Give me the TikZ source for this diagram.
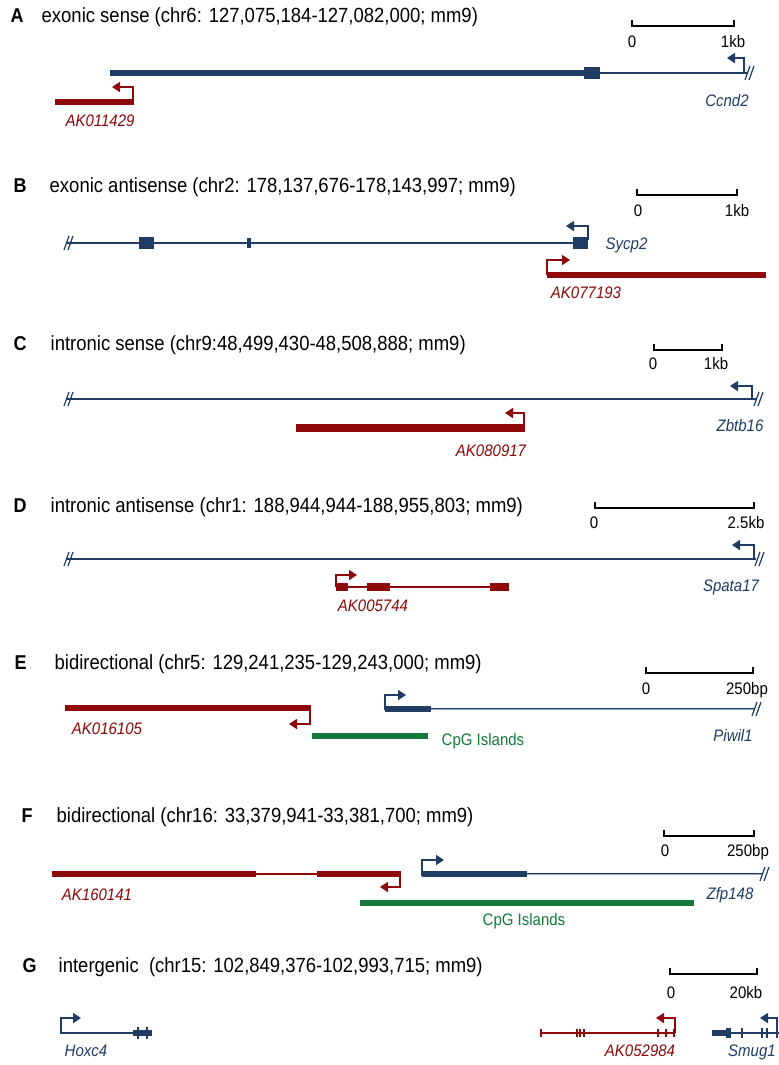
\documentclass[tikz,border=0pt]{standalone}
\usepackage{fontspec}
\setmainfont{Liberation Sans}[FakeStretch=0.9]
\usetikzlibrary{arrows.meta}
\definecolor{geneBlue}{HTML}{1F3D64}
\definecolor{geneRed}{HTML}{8E0A0A}
\definecolor{cpgGreen}{HTML}{137A3A}

% break mark on a line
\newcommand{\cutmark}[2]{%
  \draw[geneBlue, line width=0.9pt] (#1-5,#2+7) -- (#1,#2-7)
       (#1-1,#2+7) -- (#1+4,#2-7);}

\tikzset{
  paneltag/.style={anchor=base west, font=\fontsize{15}{17}\selectfont\bfseries},
  paneltitle/.style={anchor=base west, font=\fontsize{15.4}{17}\selectfont},
  scaletext/.style={anchor=base, font=\fontsize{12.5}{14}\selectfont},
  scalebar/.style={draw=black, line width=1pt},
  bluelabel/.style={anchor=base, text=geneBlue, font=\fontsize{12.5}{14}\selectfont\itshape},
  redlabel/.style={anchor=base, text=geneRed, font=\fontsize{12.5}{14}\selectfont\itshape},
  cpglabel/.style={anchor=base, text=cpgGreen, font=\fontsize{12.5}{14}\selectfont},
  intron/.style={line width=1.3pt},
  exon/.style={line width=4.5pt},
  cpg/.style={draw=cpgGreen, line width=4.5pt},
  tss/.style={line width=1.3pt, -{Triangle[length=6pt,width=7.5pt]}},
}

\begin{document}
\begin{tikzpicture}[x=0.75pt, y=-0.75pt]

        \useasboundingbox[fill=white] (0,0) rectangle (779,1065);

        % =====================================================
        % A
        % =====================================================
        \node[paneltag] (tagA) at (6,22) {A};
        \node[paneltitle] (titleA) at (37,22) {exonic sense (chr6: 127,075,184-127,082,000; mm9)};

        \draw[scalebar] (632,20) -- (632,26) -- (734,26) -- (734,20);
        \node[scaletext] (zeroA) at (632,47) {0};
        \node[scaletext] (unitA) at (733,47) {1kb};

        % Ccnd2
        \draw[exon, geneBlue] (110,73) -- (585,73);
        \fill[geneBlue] (584,67) rectangle (600,79);
        \draw[intron, geneBlue] (600,73) -- (748,73);
        \cutmark{750}{73}
        \draw[tss, geneBlue] (744,73) |- (727,58);
        \node[bluelabel] (ccnd) at (727,106) {Ccnd2};

        % AK011429
        \draw[exon, geneRed] (55,102) -- (134,102);
        \draw[tss, geneRed] (133,102) |- (112,87);
        \node[redlabel] (akA) at (100,126) {AK011429};

        % =====================================================
        % B
        % =====================================================
        \node[paneltag] (tagB) at (9,192) {B};
        \node[paneltitle] (titleB) at (45,192) {exonic antisense (chr2: 178,137,676-178,143,997; mm9)};

        \draw[scalebar] (637,189) -- (637,195) -- (737,195) -- (737,189);
        \node[scaletext] (zeroB) at (638,216) {0};
        \node[scaletext] (unitB) at (737,216) {1kb};

        % Sycp2
        \draw[intron, geneBlue] (67,243) -- (580,243);
        \cutmark{69}{243}
        \fill[geneBlue] (139,237) rectangle (154,249);
        \fill[geneBlue] (247,238) rectangle (251,248);
        \fill[geneBlue] (573,237) rectangle (588,249);
        \draw[tss, geneBlue] (588,240) |- (566,226);
        \node[bluelabel, anchor=base west] (sycp) at (601,249) {Sycp2};

        % AK077193
        \draw[exon, geneRed] (547,275) -- (766,275);
        \draw[tss, geneRed] (547,275) |- (570,260);
        \node[redlabel] (akB) at (586,298) {AK077193};

        % =====================================================
        % C
        % =====================================================
        \node[paneltag] (tagC) at (9,350) {C};
        \node[paneltitle] (titleC) at (46,350) {intronic sense (chr9:48,499,430-48,508,888; mm9)};

        \draw[scalebar] (654,344) -- (654,350) -- (722,350) -- (722,344);
        \node[scaletext] (zeroC) at (653,369) {0};
        \node[scaletext] (unitC) at (716,369) {1kb};

        % Zbtb16
        \draw[intron, geneBlue] (67,399) -- (756,399);
        \cutmark{69}{399}
        \cutmark{759}{399}
        \draw[tss, geneBlue] (752,399) |- (730,386);
        \node[bluelabel] (zbtb) at (740,431) {Zbtb16};

        % AK080917
        \draw[line width=5.5pt, geneRed] (296,428) -- (525,428);
        \draw[tss, geneRed] (524,428) |- (505,413);
        \node[redlabel] (akC) at (491,456) {AK080917};

        % =====================================================
        % D
        % =====================================================
        \node[paneltag] (tagD) at (9,512) {D};
        \node[paneltitle] (titleD) at (46,512) {intronic antisense (chr1: 188,944,944-188,955,803; mm9)};

        \draw[scalebar] (595,502) -- (595,508) -- (754,508) -- (754,502);
        \node[scaletext] (zeroD) at (594,528) {0};
        \node[scaletext] (unitD) at (746,528) {2.5kb};

        % Spata17
        \draw[intron, geneBlue] (67,559) -- (756,559);
        \cutmark{69}{559}
        \cutmark{760}{559}
        \draw[tss, geneBlue] (754,559) |- (732,545);
        \node[bluelabel] (spata) at (731,591) {Spata17};

        % AK005744
        \draw[intron, geneRed] (336,587) -- (508,587);
        \fill[geneRed] (336,583) rectangle (348,591);
        \fill[geneRed] (367,583) rectangle (390,591);
        \fill[geneRed] (490,583) rectangle (509,591);
        \draw[tss, geneRed] (336,587) |- (357,575);
        \node[redlabel] (akD) at (373,611) {AK005744};

        % =====================================================
        % E
        % =====================================================
        \node[paneltag] (tagE) at (10,669) {E};
        \node[paneltitle] (titleE) at (50,669) {bidirectional (chr5: 129,241,235-129,243,000; mm9)};

        \draw[scalebar] (646,667) -- (646,673) -- (753,673) -- (753,667);
        \node[scaletext] (zeroE) at (646,694) {0};
        \node[scaletext] (unitE) at (747,694) {250bp};

        % AK016105
        \draw[line width=5pt, geneRed] (65,708) -- (311,708);
        \draw[tss, geneRed] (310,708) |- (289,724);
        \node[redlabel] (akE) at (107,734) {AK016105};

        % Piwil1
        \draw[tss, geneBlue] (385,710) |- (406,695);
        \draw[line width=4pt, geneBlue] (385,709) -- (431,709);
        \draw[geneBlue, double=geneBlue!45, double distance=0.6pt, line width=0.6pt] (431,709) -- (755,709);
        \cutmark{757}{709}
        \node[bluelabel] (piwil) at (733,741) {Piwil1};

        % CpG
        \draw[cpg] (312,736) -- (428,736);
        \node[cpglabel] (cpgE) at (483,745) {CpG Islands};

        % =====================================================
        % F
        % =====================================================
        \node[paneltag] (tagF) at (17,822) {F};
        \node[paneltitle] (titleF) at (52,822) {bidirectional (chr16: 33,379,941-33,381,700; mm9)};

        \draw[scalebar] (664,830) -- (664,836) -- (754,836) -- (754,830);
        \node[scaletext] (zeroF) at (665,856) {0};
        \node[scaletext] (unitF) at (748,856) {250bp};

        % AK160141
        \draw[line width=4.5pt, geneRed] (52,874) -- (256,874);
        \draw[line width=1.3pt, geneRed] (256,874) -- (317,874);
        \draw[line width=4.5pt, geneRed] (317,874) -- (401,874);
        \draw[tss, geneRed] (400,874) |- (380,887);
        \node[redlabel] (akF) at (97,900) {AK160141};

        % Zfp148
        \draw[tss, geneBlue] (422,876) |- (444,860);
        \draw[line width=4.5pt, geneBlue] (422,874) -- (527,874);
        \draw[geneBlue, double=geneBlue!45, double distance=0.6pt, line width=0.6pt] (527,874) -- (763,874);
        \cutmark{765}{874}
        \node[bluelabel] (zfp) at (730,899) {Zfp148};

        % CpG
        \draw[cpg] (360,903) -- (694,903);
        \node[cpglabel] (cpgF) at (524,925) {CpG Islands};

        % =====================================================
        % G
        % =====================================================
        \node[paneltag] (tagG) at (18,972) {G};
        \node[paneltitle] (titleG) at (54,972) {intergenic \ (chr15: 102,849,376-102,993,715; mm9)};

        \draw[scalebar] (670,968) -- (670,974) -- (757,974) -- (757,968);
        \node[scaletext] (zeroG) at (671,998) {0};
        \node[scaletext] (unitG) at (746,998) {20kb};

        % Hoxc4
        \draw[tss, geneBlue] (61,1034) |- (81,1018);
        \draw[intron, geneBlue] (61,1033) -- (152,1033);
        \fill[geneBlue] (133,1030) rectangle (152,1036);
        \foreach \xe in {137,146}
            \fill[geneBlue] (\xe,1027) rectangle (\xe+2,1039);
        \node[bluelabel] (hoxc) at (86,1056) {Hoxc4};

        % AK052984
        \draw[line width=1pt, geneRed] (541,1033) -- (675,1033);
        \foreach \xe in {541,577,580,584,658,666,674}
            \draw[line width=1pt, geneRed] (\xe,1029) -- (\xe,1037);
        \draw[tss, geneRed] (675,1033) |- (656,1018);
        \node[redlabel] (akG) at (640,1056) {AK052984};

        % Smug1
        \draw[line width=4pt, geneBlue] (712,1033) -- (730,1033);
        \fill[geneBlue] (726,1028) rectangle (731,1038);
        \draw[intron, geneBlue] (730,1033) -- (779,1033);
        \foreach \xe in {742,762,767,777}
            \draw[line width=1pt, geneBlue] (\xe,1028) -- (\xe,1038);
        \draw[tss, geneBlue] (777,1033) |- (760,1018);
        \node[bluelabel] (smug) at (752,1056) {Smug1};

    \end{tikzpicture}
\end{document}
